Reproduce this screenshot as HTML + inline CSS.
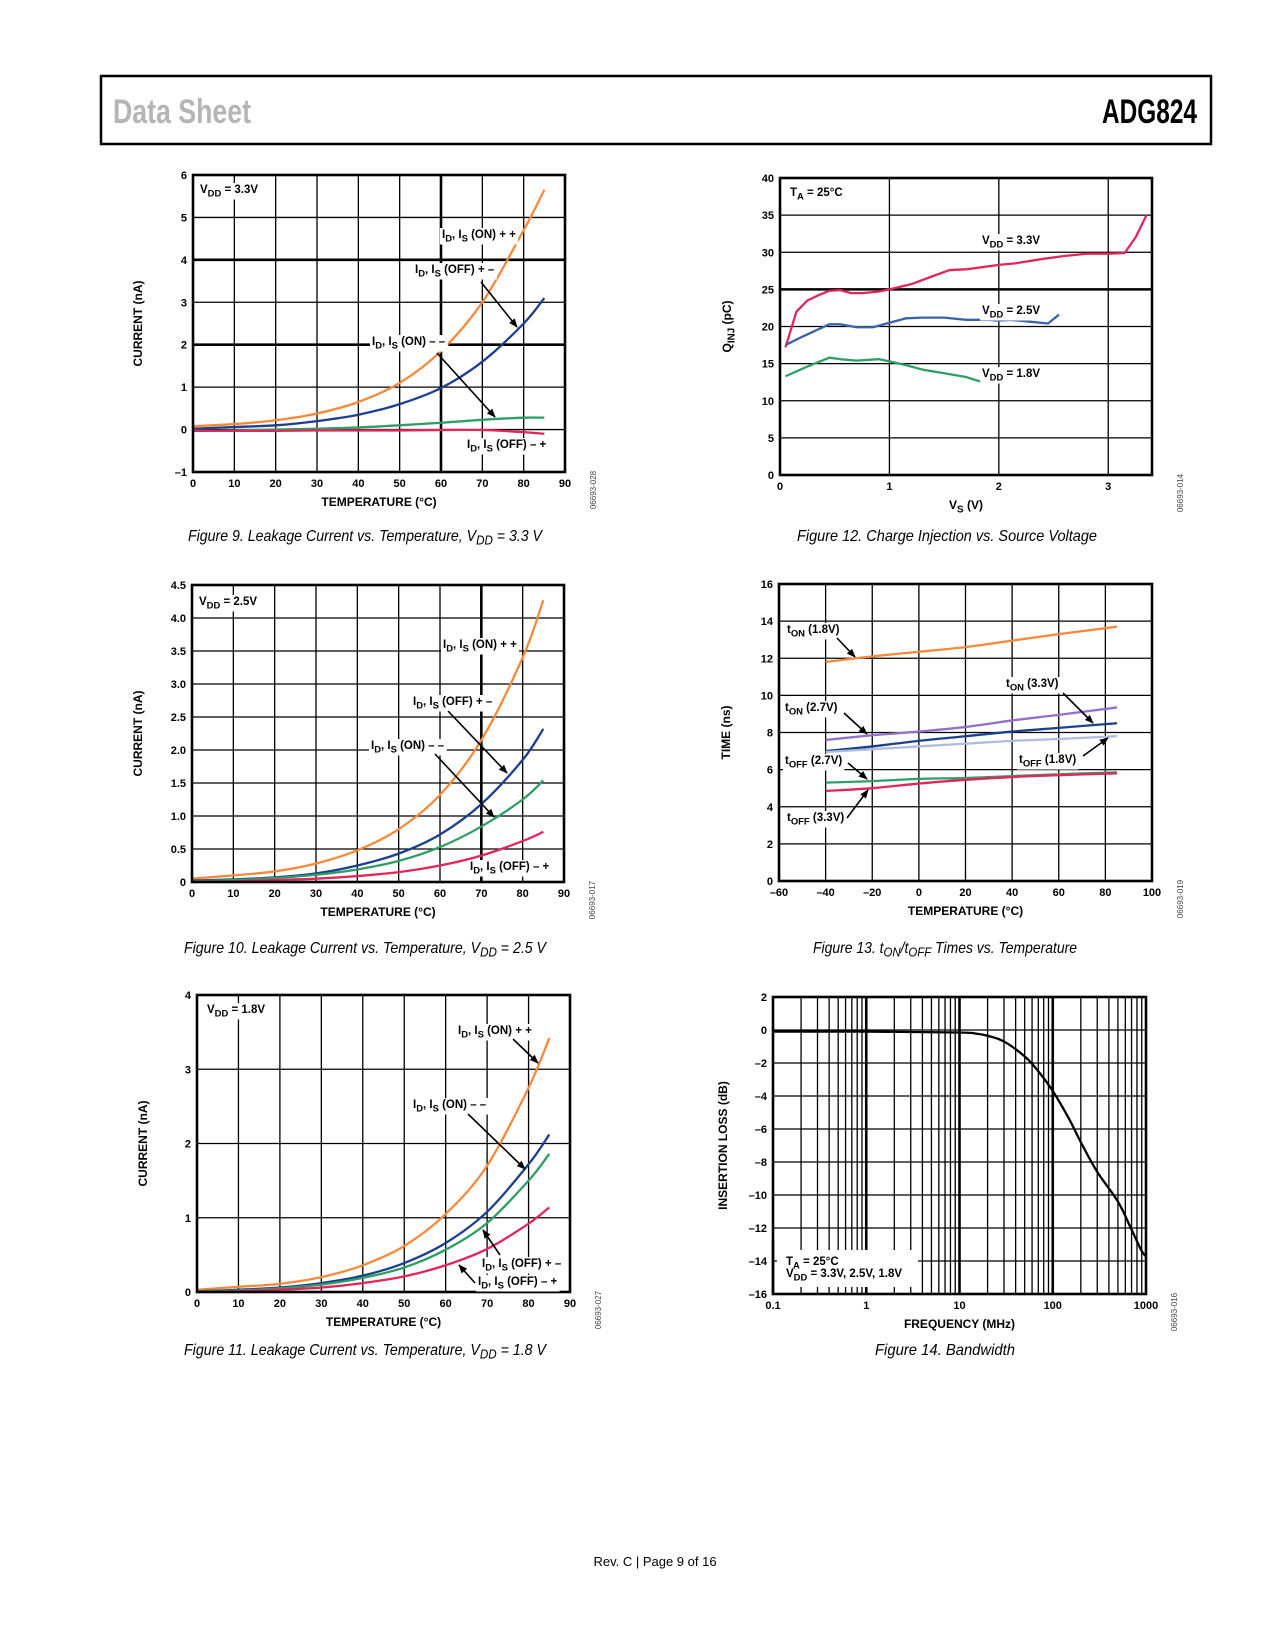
<!DOCTYPE html>
<html><head><meta charset="utf-8">
<style>
html,body{margin:0;padding:0;background:#fff;}
svg{display:block;font-family:"Liberation Sans",Arial,sans-serif;}
.tk{font-size:11px;font-weight:bold;fill:#000;}
.ti{font-size:12px;font-weight:bold;fill:#000;}
.lb{font-size:11.5px;font-weight:bold;fill:#000;}
.cap{font-size:16px;font-style:italic;fill:#000;}
.fid{font-size:8px;fill:#444;}
</style></head>
<body>
<svg id="page" width="1275" height="1650" viewBox="0 0 1275 1650" xmlns="http://www.w3.org/2000/svg">
<defs>
<marker id="ah" viewBox="0 0 10 10" refX="9" refY="5" markerWidth="9" markerHeight="9" markerUnits="userSpaceOnUse" orient="auto"><path d="M0,1 L10,5 L0,9 z" fill="#000"/></marker>
</defs>
<rect x="0" y="0" width="1275" height="1650" fill="#fff"/>
<g>
<rect x="101" y="76" width="1110" height="68" fill="none" stroke="#000" stroke-width="2.5"/>
<text x="113" y="123" font-size="34" font-weight="bold" fill="#b5b5b5" textLength="138" lengthAdjust="spacingAndGlyphs">Data Sheet</text>
<text x="1102" y="123" font-size="34" font-weight="bold" fill="#000" textLength="95" lengthAdjust="spacingAndGlyphs">ADG824</text>
</g>
<text x="655" y="1566" font-size="13" text-anchor="middle" fill="#000">Rev. C | Page 9 of 16</text>
</svg>
<script>
// ---------- Figure 9 data (VDD = 3.3V) ----------
const f9Temp = [0,10,20,30,40,50,60,70,80,85];
const f9OnPP = [0.08,0.13,0.22,0.38,0.65,1.1,1.85,3.0,4.7,5.65];
const f9OffPM = [0.02,0.06,0.1,0.2,0.35,0.6,0.98,1.6,2.5,3.1];
const f9OnMM = [-0.03,-0.02,0,0.02,0.05,0.1,0.16,0.23,0.28,0.28];
const f9OffMP = [-0.03,-0.03,-0.03,-0.02,-0.02,-0.02,-0.01,-0.01,-0.06,-0.1];
const f9YTicks = [-1,0,1,2,3,4,5,6];
const f9YLabels = ["–1","0","1","2","3","4","5","6"];
const f9XTicks = [0,10,20,30,40,50,60,70,80,90];
// ---------- Figure 10 data (VDD = 2.5V) ----------
const f10Temp = [0,10,20,30,40,50,60,70,80,85];
const f10OnPP = [0.05,0.1,0.16,0.28,0.48,0.8,1.32,2.15,3.4,4.27];
const f10OffPM = [0.02,0.04,0.07,0.13,0.25,0.43,0.72,1.18,1.85,2.32];
const f10OnMM = [0.01,0.03,0.06,0.11,0.19,0.32,0.53,0.84,1.25,1.54];
const f10OffMP = [0,0.01,0.03,0.05,0.09,0.15,0.25,0.4,0.62,0.76];
const f10YTicks = [0,0.5,1,1.5,2,2.5,3,3.5,4,4.5];
const f10YLabels = ["0","0.5","1.0","1.5","2.0","2.5","3.0","3.5","4.0","4.5"];
// ---------- Figure 11 data (VDD = 1.8V) ----------
const f11Temp = [0,10,20,30,40,50,60,70,80,85];
const f11OnPP = [0.03,0.07,0.11,0.2,0.36,0.62,1.05,1.7,2.75,3.42];
const f11OnMM = [0.01,0.03,0.06,0.12,0.22,0.39,0.66,1.08,1.72,2.12];
const f11OffPM = [0.01,0.02,0.05,0.1,0.19,0.33,0.57,0.93,1.5,1.86];
const f11OffMP = [0,0.01,0.03,0.06,0.12,0.21,0.36,0.58,0.92,1.14];
const f11YTicks = [0,1,2,3,4];
// ---------- Figure 12 data (charge injection) ----------
const f12VsA = [0.05,0.15,0.25,0.35,0.45,0.55,0.65,0.75,0.9,1.0,1.2,1.4,1.55,1.7,1.85,2.0,2.15,2.4,2.6,2.8,3.0,3.15,3.25,3.35];
const f12Q33 = [17.2,22,23.5,24.2,24.8,24.9,24.5,24.5,24.7,25,25.7,26.8,27.6,27.7,28,28.3,28.5,29.1,29.5,29.8,29.8,29.9,32,35];
const f12VsB = [0.05,0.2,0.45,0.55,0.7,0.85,1.0,1.15,1.3,1.5,1.7,1.9,2.0,2.1,2.25,2.45,2.55];
const f12Q25 = [17.5,18.6,20.3,20.3,19.9,19.9,20.5,21.1,21.2,21.2,20.9,20.9,20.8,20.9,20.7,20.4,21.6];
const f12VsC = [0.05,0.25,0.45,0.55,0.7,0.9,1.0,1.15,1.3,1.5,1.7,1.85];
const f12Q18 = [13.3,14.6,15.8,15.6,15.4,15.6,15.3,14.8,14.2,13.7,13.2,12.5];
const f12YTicks = [0,5,10,15,20,25,30,35,40];
const f12XTicks = [0,1,2,3];
// ---------- Figure 13 data (ton/toff) ----------
const f13Temp = [-40,-20,0,20,40,60,85];
const f13Ton18 = [11.8,12.1,12.35,12.6,12.95,13.3,13.7];
const f13Ton27 = [7.6,7.85,8.05,8.3,8.65,8.95,9.35];
const f13Ton33 = [7.0,7.25,7.55,7.8,8.05,8.25,8.5];
const f13Toff18 = [6.95,7.1,7.25,7.4,7.55,7.65,7.8];
const f13Toff27 = [5.3,5.38,5.5,5.55,5.65,5.75,5.85];
const f13Toff33 = [4.85,5.0,5.25,5.45,5.6,5.7,5.8];
const f13YTicks = [0,2,4,6,8,10,12,14,16];
const f13XTicks = [-60,-40,-20,0,20,40,60,80,100];
const f13XLabels = ["–60","–40","–20","0","20","40","60","80","100"];
// ---------- Figure 14 data (bandwidth) ----------
const f14Freq = [0.1,1,10,15,20,30,50,70,100,150,200,300,500,700,900,1000];
const f14Loss = [-0.1,-0.1,-0.15,-0.22,-0.35,-0.7,-1.6,-2.5,-3.7,-5.4,-6.8,-8.6,-10.4,-12.1,-13.4,-13.7];
const f14YTicks = [2,0,-2,-4,-6,-8,-10,-12,-14,-16];
const f14YLabels = ["2","0","–2","–4","–6","–8","–10","–12","–14","–16"];
const f14XTicks = [0.1,1,10,100,1000];
const f14XLabels = ["0.1","1","10","100","1000"];

const NS = "http://www.w3.org/2000/svg";
const page = document.getElementById('page');
function mk(tag, attrs, parent){
  const e = document.createElementNS(NS, tag);
  for (const k in attrs) e.setAttribute(k, attrs[k]);
  (parent||page).appendChild(e);
  return e;
}
// text with _{sub} support
function rich(parent, x, y, str, cls, anchor){
  const t = mk('text', {x:x, y:y, class:cls, 'text-anchor':anchor||'start'}, parent);
  const parts = str.split(/(_\{[^}]*\})/);
  let shifted = false;
  parts.forEach(p=>{
    if(!p) return;
    if(p.startsWith('_{')){
      const s = document.createElementNS(NS,'tspan');
      s.setAttribute('dy', shifted? 0 : 3.5);
      s.setAttribute('font-size','82%');
      s.textContent = p.slice(2,-1);
      t.appendChild(s); shifted = true;
    } else {
      const s = document.createElementNS(NS,'tspan');
      if(shifted){ s.setAttribute('dy', -3.5); shifted=false; }
      s.textContent = p;
      t.appendChild(s);
    }
  });
  return t;
}
function label(g, x, y, str, name, bg){
  const t = rich(g, x, y, str, 'lb');
  
  
  if(bg!==false){
    const b = t.getBBox();
    const r = document.createElementNS(NS,'rect');
    r.setAttribute('x', b.x-2); r.setAttribute('y', b.y-1);
    r.setAttribute('width', b.width+4); r.setAttribute('height', b.height+2);
    r.setAttribute('fill','#fff');
    g.insertBefore(r, t);
  }
  return t;
}
function arrow(g, x1,y1,x2,y2, name){
  const l = mk('line',{x1:x1,y1:y1,x2:x2,y2:y2,stroke:'#000','stroke-width':1.6,'marker-end':'url(#ah)'}, g);
  
  
}
function smoothPath(pts){
  let d = 'M'+pts[0][0].toFixed(2)+','+pts[0][1].toFixed(2);
  for(let i=0;i<pts.length-1;i++){
    const p0=pts[Math.max(0,i-1)], p1=pts[i], p2=pts[i+1], p3=pts[Math.min(pts.length-1,i+2)];
    const c1=[p1[0]+(p2[0]-p0[0])/6, p1[1]+(p2[1]-p0[1])/6];
    const c2=[p2[0]-(p3[0]-p1[0])/6, p2[1]-(p3[1]-p1[1])/6];
    d+=' C'+c1[0].toFixed(2)+','+c1[1].toFixed(2)+' '+c2[0].toFixed(2)+','+c2[1].toFixed(2)+' '+p2[0].toFixed(2)+','+p2[1].toFixed(2);
  }
  return d;
}
function chart(c){
  const g = mk('g',{});
  
  
  const xs = c.xlog ? (v=> c.L + (Math.log10(v)-Math.log10(c.xmin))/(Math.log10(c.xmax)-Math.log10(c.xmin))*(c.R-c.L))
                    : (v=> c.L + (v-c.xmin)/(c.xmax-c.xmin)*(c.R-c.L));
  const ys = v=> c.B - (v-c.ymin)/(c.ymax-c.ymin)*(c.B-c.T);
  c.xs=xs; c.ys=ys;
  // grid
  (c.gridX||[]).forEach(v=>{
    const th = (c.thickX||[]).includes(v);
    const l = mk('line',{x1:xs(v),x2:xs(v),y1:c.T,y2:c.B,stroke:'#000','stroke-width':th?2.6:1.3},g);
    
    
  });
  (c.gridY||[]).forEach(v=>{
    const th = (c.thickY||[]).includes(v);
    const l = mk('line',{x1:c.L,x2:c.R,y1:ys(v),y2:ys(v),stroke:'#000','stroke-width':th?2.6:1.3},g);
    
    
  });
  // ticks
  c.yTicks.forEach((v,i)=>{
    const t = mk('text',{x:c.L-6,y:ys(v)+4,class:'tk','text-anchor':'end'},g);
    
    
    t.textContent = c.yLabels? c.yLabels[i] : String(v);
  });
  c.xTicks.forEach((v,i)=>{
    const t = mk('text',{x:xs(v),y:c.B+15,class:'tk','text-anchor':'middle'},g);
    
    
    t.textContent = c.xLabels? c.xLabels[i] : String(v);
  });
  // titles
  const xt = rich(g, (c.L+c.R)/2, c.B+34, c.xTitle, 'ti', 'middle');
  
  
  const ycx = c.L - c.yTitleOff, ycy = (c.T+c.B)/2;
  const yt = rich(g, ycx, ycy+4, c.yTitle, 'ti', 'middle');
  yt.setAttribute('transform','rotate(-90 '+ycx+' '+ycy+')');
  
  
  // figure id
  const fx = c.R+28, fy = c.B+18;
  const fi = mk('text',{x:fx,y:fy+3,class:'fid','text-anchor':'middle',transform:'rotate(-90 '+fx+' '+fy+')'},g);
  
  
  fi.textContent = c.fid;
  // series
  c.series.forEach(s=>{
    const pts = s.x.map((v,i)=>[xs(v), ys(s.y[i])]);
    const p = mk('path',{d: s.straight? 'M'+pts.map(p=>p.join(',')).join(' L') : smoothPath(pts), fill:'none', stroke:s.color,'stroke-width':2.3,'stroke-linejoin':'round'},g);
    
    
  });
  // frame
  const fr = mk('rect',{x:c.L,y:c.T,width:c.R-c.L,height:c.B-c.T,fill:'none',stroke:'#000','stroke-width':2.6},g);
  
  
  // caption
  const cp = rich(g, c.capX, c.capY, c.caption, 'cap', 'middle');
  cp.setAttribute('textLength', c.capW);
  cp.setAttribute('lengthAdjust','spacingAndGlyphs');
  
  
  return g;
}
const OR='#f7893b', BL='#1c3f8e', GR='#2f9e66', RD='#e2265c', PU='#9272c8', LB='#aebddb';
const range = (a,b,s)=>{const r=[];for(let v=a;v<=b+1e-9;v+=s)r.push(+v.toFixed(4));return r;};

// Figure 9
let g = chart({name:'figure-9-chart',L:193,R:565,T:175,B:472,xmin:0,xmax:90,ymin:-1,ymax:6,
  gridX:range(10,80,10),gridY:range(0,5,1),thickX:[60],thickY:[2,4],
  yTicks:f9YTicks,yLabels:f9YLabels,xTicks:f9XTicks,xTitle:'TEMPERATURE (°C)',yTitle:'CURRENT (nA)',yTitleOff:55,fid:'06693-028',
  series:[{name:'series-id-on-pp',x:f9Temp,y:f9OnPP,color:OR},{name:'series-id-off-pm',x:f9Temp,y:f9OffPM,color:BL},
          {name:'series-id-on-mm',x:f9Temp,y:f9OnMM,color:GR},{name:'series-id-off-mp',x:f9Temp,y:f9OffMP,color:RD}],
  caption:'Figure 9. Leakage Current vs. Temperature, V_{DD} = 3.3 V',capX:365,capY:541,capW:354});
label(g,200,193,'V_{DD} = 3.3V','vdd-label');
label(g,442,238,'I_{D}, I_{S} (ON) + +','label-on-pp');
label(g,415,273,'I_{D}, I_{S} (OFF) + –','label-off-pm');
label(g,372,345,'I_{D}, I_{S} (ON) – –','label-on-mm');
label(g,467,448,'I_{D}, I_{S} (OFF) – +','label-off-mp');
arrow(g,481,282,517,327,'arrow-off-pm');
arrow(g,437,353,495,417,'arrow-on-mm');

// Figure 10
g = chart({name:'figure-10-chart',L:192,R:564,T:585,B:882,xmin:0,xmax:90,ymin:0,ymax:4.5,
  gridX:range(10,80,10),gridY:range(0.5,4,0.5),thickX:[70],thickY:[],
  yTicks:f10YTicks,yLabels:f10YLabels,xTicks:f9XTicks,xTitle:'TEMPERATURE (°C)',yTitle:'CURRENT (nA)',yTitleOff:54,fid:'06693-017',
  series:[{name:'series-id-on-pp',x:f10Temp,y:f10OnPP,color:OR},{name:'series-id-off-pm',x:f10Temp,y:f10OffPM,color:BL},
          {name:'series-id-on-mm',x:f10Temp,y:f10OnMM,color:GR},{name:'series-id-off-mp',x:f10Temp,y:f10OffMP,color:RD}],
  caption:'Figure 10. Leakage Current vs. Temperature, V_{DD} = 2.5 V',capX:365,capY:953,capW:362});
label(g,199,605,'V_{DD} = 2.5V','vdd-label');
label(g,443,648,'I_{D}, I_{S} (ON) + +','label-on-pp');
label(g,413,705,'I_{D}, I_{S} (OFF) + –','label-off-pm');
label(g,371,749,'I_{D}, I_{S} (ON) – –','label-on-mm');
label(g,470,870,'I_{D}, I_{S} (OFF) – +','label-off-mp');
arrow(g,448,711,507,773,'arrow-off-pm');
arrow(g,435,754,494,817,'arrow-on-mm');

// Figure 11
g = chart({name:'figure-11-chart',L:197,R:570,T:995,B:1292,xmin:0,xmax:90,ymin:0,ymax:4,
  gridX:range(10,80,10),gridY:range(1,3,1),thickX:[],thickY:[],
  yTicks:f11YTicks,xTicks:f9XTicks,xTitle:'TEMPERATURE (°C)',yTitle:'CURRENT (nA)',yTitleOff:54,fid:'06693-027',
  series:[{name:'series-id-on-pp',x:f11Temp,y:f11OnPP,color:OR},{name:'series-id-on-mm',x:f11Temp,y:f11OnMM,color:BL},
          {name:'series-id-off-pm',x:f11Temp,y:f11OffPM,color:GR},{name:'series-id-off-mp',x:f11Temp,y:f11OffMP,color:RD}],
  caption:'Figure 11. Leakage Current vs. Temperature, V_{DD} = 1.8 V',capX:365,capY:1355,capW:362});
label(g,207,1013,'V_{DD} = 1.8V','vdd-label');
label(g,458,1034,'I_{D}, I_{S} (ON) + +','label-on-pp');
label(g,413,1108,'I_{D}, I_{S} (ON) – –','label-on-mm');
label(g,482,1267,'I_{D}, I_{S} (OFF) + –','label-off-pm');
label(g,478,1285,'I_{D}, I_{S} (OFF) – +','label-off-mp');
arrow(g,513,1039,538,1063,'arrow-on-pp');
arrow(g,468,1114,525,1169,'arrow-on-mm');
arrow(g,500,1255,483,1230,'arrow-off-pm');
arrow(g,475,1283,459,1265,'arrow-off-mp');

// Figure 12
g = chart({name:'figure-12-chart',L:780,R:1152,T:178,B:475,xmin:0,xmax:3.4,ymin:0,ymax:40,
  gridX:[1,2,3],gridY:range(5,35,5),thickX:[],thickY:[25],
  yTicks:f12YTicks,xTicks:f12XTicks,xTitle:'V_{S} (V)',yTitle:'Q_{INJ} (pC)',yTitleOff:53,fid:'06693-014',
  series:[{name:'series-vdd-3v3',x:f12VsA,y:f12Q33,color:RD,straight:true},{name:'series-vdd-2v5',x:f12VsB,y:f12Q25,color:'#3a63a8',straight:true},
          {name:'series-vdd-1v8',x:f12VsC,y:f12Q18,color:GR,straight:true}],
  caption:'Figure 12. Charge Injection vs. Source Voltage',capX:947,capY:541,capW:300});
label(g,790,196,'T_{A} = 25°C','ta-label');
label(g,982,244,'V_{DD} = 3.3V','label-vdd-3v3');
label(g,982,314,'V_{DD} = 2.5V','label-vdd-2v5');
label(g,982,377,'V_{DD} = 1.8V','label-vdd-1v8');

// Figure 13
g = chart({name:'figure-13-chart',L:779,R:1152,T:584,B:881,xmin:-60,xmax:100,ymin:0,ymax:16,
  gridX:range(-40,80,20),gridY:range(2,14,2),thickX:[],thickY:[],
  yTicks:f13YTicks,xTicks:f13XTicks,xLabels:f13XLabels,xTitle:'TEMPERATURE (°C)',yTitle:'TIME (ns)',yTitleOff:53,fid:'06693-019',
  series:[{name:'series-ton-1v8',x:f13Temp,y:f13Ton18,color:OR},{name:'series-ton-2v7',x:f13Temp,y:f13Ton27,color:PU},
          {name:'series-ton-3v3',x:f13Temp,y:f13Ton33,color:BL},{name:'series-toff-1v8',x:f13Temp,y:f13Toff18,color:LB},
          {name:'series-toff-2v7',x:f13Temp,y:f13Toff27,color:GR},{name:'series-toff-3v3',x:f13Temp,y:f13Toff33,color:RD}],
  caption:'Figure 13. t_{ON}/t_{OFF} Times vs. Temperature',capX:945,capY:953,capW:264});
label(g,787,633,'t_{ON} (1.8V)','label-ton-1v8');
label(g,1006,687,'t_{ON} (3.3V)','label-ton-3v3');
label(g,785,711,'t_{ON} (2.7V)','label-ton-2v7');
label(g,785,764,'t_{OFF} (2.7V)','label-toff-2v7');
label(g,1019,763,'t_{OFF} (1.8V)','label-toff-1v8');
label(g,787,821,'t_{OFF} (3.3V)','label-toff-3v3');
arrow(g,837,638,855,657,'arrow-ton-1v8');
arrow(g,1063,693,1093,723,'arrow-ton-3v3');
arrow(g,844,713,867,734,'arrow-ton-2v7');
arrow(g,848,763,867,779,'arrow-toff-2v7');
arrow(g,1083,756,1108,738,'arrow-toff-1v8');
arrow(g,847,818,868,790,'arrow-toff-3v3');

// Figure 14
const f14Grid=[]; [0.1,1,10,100].forEach(d=>{for(let k=2;k<=9;k++)f14Grid.push(+(k*d).toFixed(4));}); f14Grid.push(1,10,100);
g = chart({name:'figure-14-chart',L:773,R:1146,T:997,B:1294,xmin:0.1,xmax:1000,xlog:true,ymin:-16,ymax:2,
  gridX:f14Grid,gridY:range(-14,0,2),thickX:[1,10,100],thickY:[],
  yTicks:f14YTicks,yLabels:f14YLabels,xTicks:f14XTicks,xLabels:f14XLabels,xTitle:'FREQUENCY (MHz)',yTitle:'INSERTION LOSS (dB)',yTitleOff:50,fid:'06693-016',
  series:[{name:'series-insertion-loss',x:f14Freq,y:f14Loss,color:'#000'}],
  caption:'Figure 14. Bandwidth',capX:945,capY:1355,capW:140});
const lbg = mk('rect',{x:777,y:1250,width:141,height:37,fill:'#fff'},g);


label(g,786,1265,'T_{A} = 25°C','ta-label',false);
label(g,786,1277,'V_{DD} =  3.3V, 2.5V, 1.8V','vdd-label',false);
// redraw frame edges over legend bg
const fr2 = mk('line',{x1:773,y1:1240,x2:773,y2:1294,stroke:'#000','stroke-width':2.6},g);


</script>
</body></html>
